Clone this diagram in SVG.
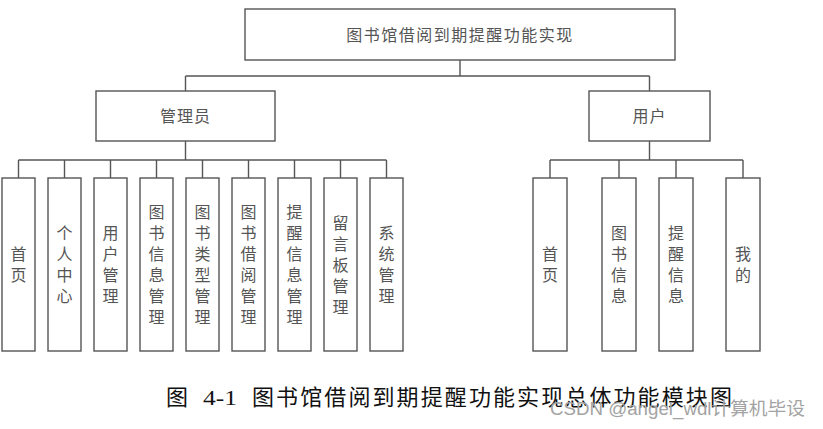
<svg xmlns="http://www.w3.org/2000/svg" width="823" height="429" viewBox="0 0 823 429">
<style>
.box{fill:#fff;stroke:#555;stroke-width:1.4}
.ln{fill:none;stroke:#555;stroke-width:1.4}
.t{font-family:"Noto Sans CJK SC","Noto Sans",sans-serif;font-size:16px;fill:#555;text-anchor:middle}
.v{writing-mode:vertical-rl;letter-spacing:5px}
.cap{font-family:"Noto Sans CJK SC",sans-serif;font-size:22px;fill:#111;letter-spacing:2.1px}
.num{font-family:"Liberation Serif",serif;font-size:22px;fill:#111}
.wm{font-family:"Liberation Sans","Noto Sans CJK SC",sans-serif;font-size:18px;fill:#a3a3a3}
</style>
<rect width="823" height="429" fill="#fff"/>
<g id="connectors">
<path class="ln" d="M460 60V76M185.5 76H649.5M185.5 76V91M649.5 76V91"/>
<path class="ln" d="M185.5 141V160M18.5 160H386.5M18.5 160V178M64.5 160V178M110.5 160V178M156.5 160V178M202.5 160V178M248.5 160V178M294.5 160V178M340.5 160V178M386.5 160V178"/>
<path class="ln" d="M649.5 141V160M550 160H743M550 160V178M619 160V178M676 160V178M743 160V178"/>
</g>
<g id="root"><rect class="box" x="245" y="9" width="430" height="51"/><text class="t" x="460" y="41" letter-spacing="1.5">图书馆借阅到期提醒功能实现</text></g>
<g id="admin"><rect class="box" x="96" y="91" width="179" height="50"/><text class="t" x="185.5" y="122" letter-spacing="1">管理员</text></g>
<g id="user"><rect class="box" x="589" y="91" width="121" height="50"/><text class="t" x="649.5" y="122" letter-spacing="1">用户</text></g>
<g id="a1"><rect class="box" x="2" y="178" width="33" height="173"/><text class="t v" x="18.5" y="267">首页</text></g>
<g id="a2"><rect class="box" x="48" y="178" width="33" height="173"/><text class="t v" x="64.5" y="267">个人中心</text></g>
<g id="a3"><rect class="box" x="94" y="178" width="33" height="173"/><text class="t v" x="110.5" y="267">用户管理</text></g>
<g id="a4"><rect class="box" x="140" y="178" width="33" height="173"/><text class="t v" x="156.5" y="267">图书信息管理</text></g>
<g id="a5"><rect class="box" x="186" y="178" width="33" height="173"/><text class="t v" x="202.5" y="267">图书类型管理</text></g>
<g id="a6"><rect class="box" x="232" y="178" width="33" height="173"/><text class="t v" x="248.5" y="267">图书借阅管理</text></g>
<g id="a7"><rect class="box" x="278" y="178" width="33" height="173"/><text class="t v" x="294.5" y="267">提醒信息管理</text></g>
<g id="a8"><rect class="box" x="324" y="178" width="33" height="173"/><text class="t v" x="340.5" y="267">留言板管理</text></g>
<g id="a9"><rect class="box" x="370" y="178" width="33" height="173"/><text class="t v" x="386.5" y="267">系统管理</text></g>
<g id="u1"><rect class="box" x="533" y="178" width="34" height="173"/><text class="t v" x="550" y="267">首页</text></g>
<g id="u2"><rect class="box" x="602" y="178" width="34" height="173"/><text class="t v" x="619" y="267">图书信息</text></g>
<g id="u3"><rect class="box" x="659" y="178" width="34" height="173"/><text class="t v" x="676" y="267">提醒信息</text></g>
<g id="u4"><rect class="box" x="726" y="178" width="34" height="173"/><text class="t v" x="743" y="267">我的</text></g>
<g id="caption">
<text class="cap" x="166" y="405">图</text>
<text class="num" x="203" y="405" textLength="34" lengthAdjust="spacingAndGlyphs">4-1</text>
<text class="cap" x="252" y="405">图书馆借阅到期提醒功能实现总体功能模块图</text>
</g>
<text class="wm" x="550" y="415" textLength="255" lengthAdjust="spacingAndGlyphs">CSDN @angel_wdl计算机毕设</text>
</svg>
